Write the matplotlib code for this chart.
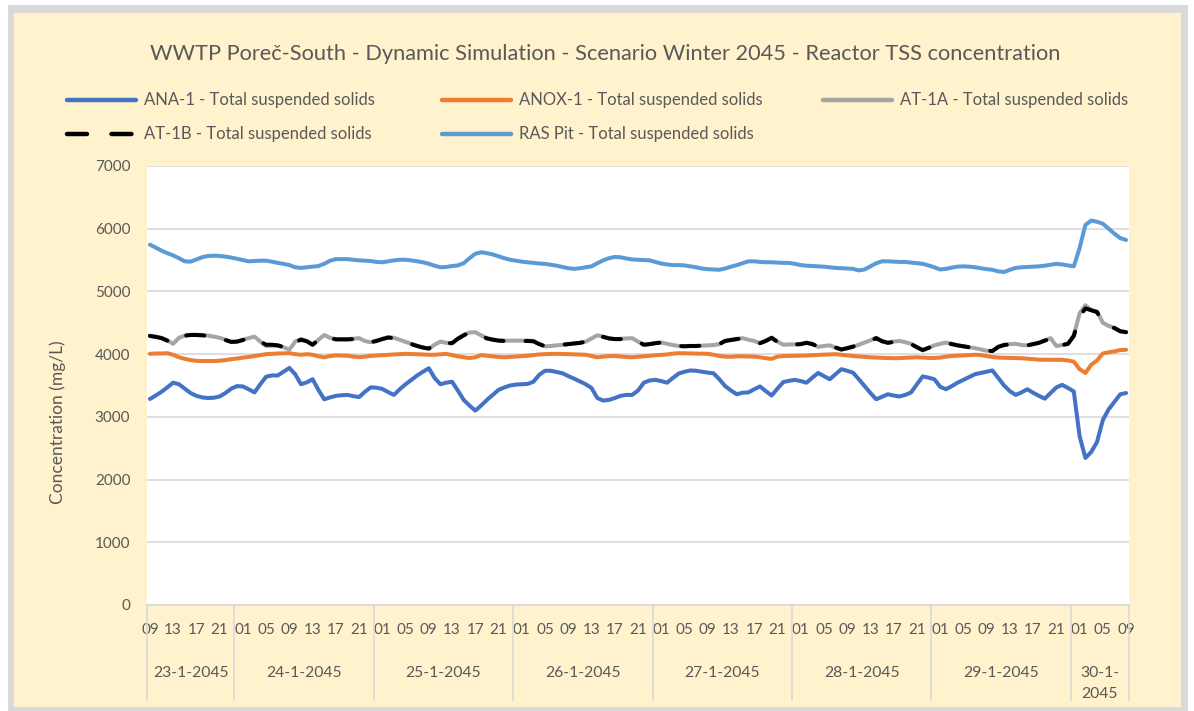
import numpy as np
import matplotlib.pyplot as plt
from matplotlib.patches import Rectangle
from matplotlib.lines import Line2D

plt.rcParams['font.family'] = ['Lato', 'DejaVu Sans']

# Categories
days = ['23-1-2045', '24-1-2045', '25-1-2045', '26-1-2045', '27-1-2045',
        '28-1-2045', '29-1-2045', '30-1-\n2045']
hours_per_day = [15, 24, 24, 24, 24, 24, 24, 10]
first_hour = 9

title = 'WWTP Poreč-South - Dynamic Simulation - Scenario Winter 2045 - Reactor TSS concentration'
ylabel = 'Concentration (mg/L)'

# Series values (mg/L), hourly
ana = [3285, 3340, 3400, 3470, 3545, 3520, 3450, 3380, 3335, 3310, 3300, 3305, 3325, 3380, 3450, 3490,
       3485, 3440, 3390, 3520, 3640, 3660, 3660, 3720, 3780, 3680, 3520, 3550, 3600, 3430, 3280, 3310,
       3335, 3345, 3350, 3330, 3315, 3400, 3470, 3465, 3445, 3395, 3350, 3440, 3520, 3590, 3660, 3720,
       3775, 3620, 3520, 3545, 3560, 3420, 3270, 3180, 3100, 3180, 3270, 3350, 3430, 3470, 3500, 3515,
       3520, 3525, 3560, 3670, 3735, 3735, 3715, 3695, 3650, 3610, 3565, 3520, 3460, 3300, 3260, 3270,
       3300, 3335, 3350, 3350, 3420, 3545, 3580, 3590, 3570, 3545, 3620, 3690, 3720, 3740, 3735, 3720,
       3705, 3695, 3600, 3490, 3420, 3360, 3385, 3390, 3440, 3485, 3410, 3340, 3450, 3555, 3575, 3590,
       3570, 3545, 3625, 3700, 3650, 3600, 3680, 3760, 3735, 3705, 3600, 3490, 3380, 3280, 3320, 3360,
       3340, 3325, 3350, 3390, 3520, 3645, 3625, 3600, 3480, 3440, 3490, 3545, 3590, 3635, 3680, 3700,
       3720, 3740, 3620, 3500, 3410, 3350, 3390, 3440, 3385, 3335, 3290, 3380, 3470, 3510, 3460, 3405,
       2690, 2345, 2440, 2600, 2950, 3120, 3240, 3360, 3380]

anox = [4005, 4010, 4010, 4015, 3990, 3950, 3925, 3905, 3893, 3890, 3890, 3890, 3895, 3905, 3920, 3930,
        3945, 3955, 3970, 3985, 4000, 4005, 4010, 4012, 4015, 4000, 3990, 4000, 3990, 3965, 3950, 3970,
        3980, 3978, 3975, 3960, 3952, 3960, 3972, 3978, 3985, 3990, 3995, 4000, 4005, 4002, 4000, 3995,
        3990, 3990, 3998, 4005, 3985, 3965, 3950, 3938, 3950, 3985, 3975, 3965, 3955, 3950, 3955, 3962,
        3970, 3975, 3985, 3995, 4000, 4003, 4005, 4003, 4000, 3997, 3993, 3990, 3970, 3950, 3960, 3968,
        3970, 3962, 3955, 3950, 3958, 3966, 3974, 3982, 3988, 3995, 4008, 4015, 4013, 4010, 4008, 4006,
        4005, 3990, 3970, 3960, 3958, 3965, 3965, 3962, 3960, 3950, 3935, 3925, 3960, 3970, 3972, 3973,
        3975, 3978, 3983, 3988, 3992, 3996, 4000, 3990, 3980, 3970, 3963, 3957, 3950, 3945, 3942, 3938,
        3935, 3937, 3942, 3946, 3950, 3945, 3940, 3938, 3945, 3960, 3970, 3975, 3980, 3985, 3990, 3985,
        3970, 3955, 3945, 3942, 3940, 3937, 3935, 3928, 3920, 3912, 3910, 3910, 3910, 3910, 3900, 3880,
        3760, 3700, 3830, 3900, 4010, 4030, 4045, 4065, 4070]

at1a = [4295, 4280, 4260, 4220, 4165, 4260, 4295, 4310, 4310, 4305, 4295, 4280, 4260, 4230, 4195, 4200,
        4230, 4255, 4280, 4200, 4130, 4135, 4135, 4110, 4070, 4200, 4240, 4210, 4150, 4230, 4305, 4260,
        4240, 4240, 4240, 4245, 4255, 4210, 4190, 4215, 4245, 4270, 4260, 4230, 4195, 4165, 4130, 4105,
        4085, 4150, 4200, 4180, 4175, 4250, 4305, 4345, 4350, 4300, 4255, 4235, 4220, 4215, 4215, 4215,
        4215, 4215, 4210, 4160, 4125, 4130, 4140, 4150, 4160, 4170, 4180, 4200, 4250, 4300, 4280, 4255,
        4240, 4245, 4250, 4255, 4200, 4150, 4160, 4175, 4185, 4165, 4145, 4130, 4125, 4130, 4130, 4135,
        4140, 4145, 4160, 4215, 4230, 4245, 4255, 4230, 4210, 4175, 4215, 4265, 4200, 4150, 4155, 4155,
        4160, 4185, 4165, 4115, 4130, 4140, 4105, 4070, 4095, 4120, 4150, 4185, 4220, 4260, 4210, 4185,
        4200, 4210, 4190, 4165, 4110, 4060, 4100, 4140, 4165, 4185, 4165, 4140, 4125, 4110, 4095, 4075,
        4055, 4050, 4120, 4150, 4160, 4165, 4145, 4140, 4160, 4185, 4220, 4255, 4130, 4145, 4165, 4300,
        4650, 4780, 4700, 4680, 4500, 4450, 4420, 4365, 4350]

at1b = [4290, 4275, 4255, 4215, 4170, 4255, 4295, 4305, 4305, 4300, 4290, 4275, 4255, 4225, 4195, 4200,
        4225, 4250, 4270, 4200, 4150, 4150, 4140, 4115, 4080, 4190, 4230, 4205, 4150, 4225, 4300, 4255,
        4235, 4235, 4235, 4240, 4250, 4205, 4190, 4210, 4240, 4265, 4255, 4225, 4190, 4160, 4130, 4105,
        4090, 4150, 4195, 4175, 4175, 4245, 4300, 4345, 4350, 4295, 4250, 4230, 4215, 4210, 4210, 4210,
        4210, 4210, 4205, 4160, 4125, 4130, 4140, 4150, 4160, 4170, 4180, 4200, 4245, 4300, 4275, 4250,
        4240, 4240, 4245, 4250, 4200, 4150, 4160, 4175, 4185, 4165, 4145, 4130, 4125, 4130, 4130, 4135,
        4140, 4145, 4160, 4210, 4225, 4240, 4250, 4225, 4205, 4175, 4210, 4260, 4195, 4150, 4155, 4155,
        4160, 4180, 4160, 4120, 4130, 4140, 4105, 4075, 4095, 4120, 4150, 4180, 4215, 4255, 4205, 4180,
        4195, 4205, 4185, 4160, 4110, 4065, 4100, 4140, 4160, 4180, 4160, 4140, 4125, 4110, 4095, 4075,
        4055, 4050, 4115, 4145, 4155, 4160, 4145, 4140, 4160, 4180, 4215, 4250, 4130, 4145, 4165, 4290,
        4600, 4730, 4700, 4670, 4495, 4450, 4415, 4365, 4350]

ras = [5745, 5700, 5650, 5610, 5575, 5530, 5480, 5475, 5510, 5545, 5565, 5570, 5565, 5555, 5540, 5520,
       5500, 5480, 5485, 5490, 5490, 5475, 5455, 5440, 5420, 5385, 5375, 5385, 5395, 5405, 5440, 5490,
       5515, 5515, 5515, 5505, 5495, 5490, 5485, 5470, 5465, 5480, 5495, 5505, 5505, 5495, 5480, 5465,
       5440, 5410, 5385, 5390, 5405, 5415, 5450, 5530, 5600, 5625, 5610, 5590, 5560, 5530, 5505, 5490,
       5475, 5465, 5455, 5445, 5440, 5425, 5410, 5390, 5370, 5360, 5370, 5385, 5400, 5450, 5495, 5530,
       5550, 5545, 5525, 5510, 5505, 5500, 5495, 5470, 5445, 5430, 5420, 5420, 5415, 5400, 5385, 5365,
       5355, 5350, 5345, 5365, 5395, 5420, 5450, 5480, 5480, 5470, 5465, 5465, 5460, 5455, 5455, 5440,
       5420, 5410, 5405, 5400, 5395, 5385, 5375, 5370, 5365, 5360, 5335, 5350, 5400, 5450, 5480, 5480,
       5475, 5470, 5470, 5460, 5450, 5440, 5415, 5385, 5350, 5360, 5380, 5395, 5400, 5395, 5385, 5370,
       5355, 5345, 5320, 5310, 5345, 5375, 5385, 5390, 5395, 5400, 5410, 5425, 5440, 5430, 5415, 5400,
       5690, 6060, 6130, 6110, 6080, 6000, 5920, 5850, 5820]

# build hour labels for the category axis
hour_labels = []
h = first_hour
for n in hours_per_day:
    for k in range(n):
        hour_labels.append('%02d' % h)
        h = (h + 1) % 24

W, H = 1194, 711
txt = '#595959'
grid = '#d9d9d9'

fig = plt.figure(figsize=(W / 100, H / 100), dpi=100)
fig.patch.set_facecolor('white')


def fr(x0, y0, x1, y1):
    # pixel box -> figure fraction rect
    return (x0 / W, 1 - y1 / H), (x1 - x0) / W, (y1 - y0) / H


xy, w, hh = fr(8, 5, 1188, 711)
fig.patches.append(Rectangle(xy, w, hh, transform=fig.transFigure, facecolor='#d9d9d9', edgecolor='none', zorder=-2))
xy, w, hh = fr(14, 13, 1181, 707)
fig.patches.append(Rectangle(xy, w, hh, transform=fig.transFigure, facecolor='#fff2cc', edgecolor='none', zorder=-1))

ax = fig.add_axes([147 / W, 1 - 605 / H, (1129 - 147) / W, (605 - 166) / H])
ax.set_facecolor('white')

x = np.arange(len(ras))
ax.plot(x, ana, color='#4472c4', lw=2.9, solid_joinstyle='round', solid_capstyle='round', zorder=3)
ax.plot(x, anox, color='#ed7d31', lw=2.9, solid_joinstyle='round', solid_capstyle='round', zorder=3)
ax.plot(x, at1a, color='#a5a5a5', lw=2.9, solid_joinstyle='round', solid_capstyle='round', zorder=3)
ax.plot(x, at1b, color='black', lw=2.9, dashes=(4.5, 5.5), dash_capstyle='round', zorder=4)
ax.plot(x, ras, color='#5b9bd5', lw=2.9, solid_joinstyle='round', solid_capstyle='round', zorder=3)

ax.set_xlim(-0.5, len(ras) - 0.5)
ax.set_ylim(0, 7000)
ax.set_yticks(range(0, 7001, 1000))
ax.grid(axis='y', color=grid, lw=1.2, zorder=0)
for s in ['top', 'right', 'left']:
    ax.spines[s].set_visible(False)
ax.spines['bottom'].set_color(grid)
ax.spines['bottom'].set_linewidth(1.2)

ax.set_xticks(x[::4])
ax.set_xticklabels(hour_labels[::4])
ax.tick_params(axis='x', length=0, pad=13, labelsize=11, labelcolor=txt)
ax.tick_params(axis='y', length=0, pad=12, labelsize=11, labelcolor=txt)

# day group labels and separators below axis
start = 0
bounds = [-0.5]
for d, n in zip(days, hours_per_day):
    mid = start + (n - 1) / 2
    ax.text(mid, -0.14, d, transform=ax.get_xaxis_transform(), ha='center', va='top',
            fontsize=11.3, color=txt, linespacing=1.55)
    start += n
    bounds.append(start - 0.5)
for b in bounds:
    ax.plot([b, b], [0, -(700 - 605) / (605 - 166)], transform=ax.get_xaxis_transform(),
            color=grid, lw=1.2, clip_on=False)

fig.text(58 / W, 1 - 422 / H, ylabel, rotation=90, ha='center', va='center', fontsize=12.5, color=txt)
fig.text(605 / W, 1 - 54 / H, title, ha='center', va='center', fontsize=15.7, color=txt)

# legend, laid out like the spreadsheet one
entries = [('ANA-1 - Total suspended solids', '#4472c4', None, 67, 100),
           ('ANOX-1 - Total suspended solids', '#ed7d31', None, 442, 100),
           ('AT-1A - Total suspended solids', '#a5a5a5', None, 823, 100),
           ('AT-1B - Total suspended solids', 'black', (4.5, 5.5), 67, 134),
           ('RAS Pit - Total suspended solids', '#5b9bd5', None, 442, 134)]
for label, c, dsh, lx, ly in entries:
    ln = Line2D([lx / W, (lx + 69) / W], [1 - ly / H, 1 - ly / H], transform=fig.transFigure,
                color=c, lw=3.2, solid_capstyle='round', dash_capstyle='round')
    if dsh:
        ln.set_dashes(dsh)
    fig.add_artist(ln)
    fig.text((lx + 77) / W, 1 - ly / H, label, ha='left', va='center', fontsize=12, color=txt)

fig.savefig('out.png', dpi=100, facecolor=fig.get_facecolor())
